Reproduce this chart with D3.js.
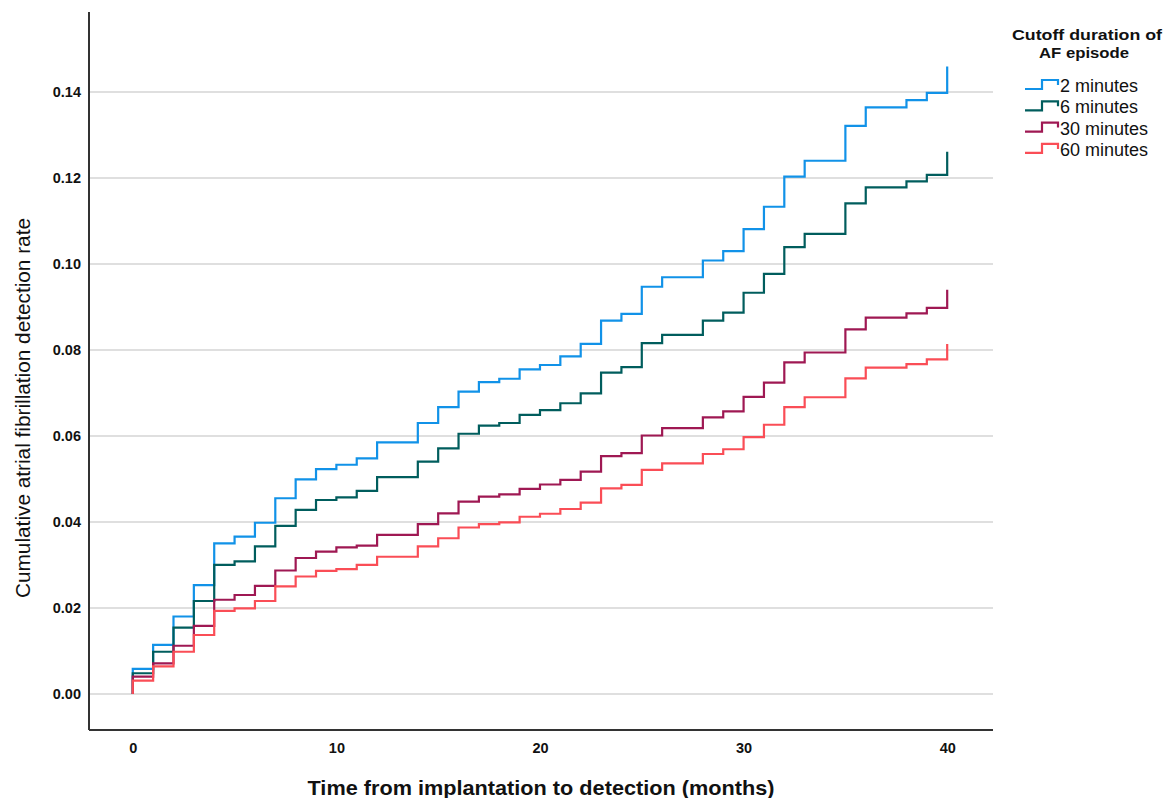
<!DOCTYPE html>
<html>
<head>
<meta charset="utf-8">
<script src="https://cdn.jsdelivr.net/npm/d3@7"></script>
<style>
  body { margin: 0; background: #fff; }
  svg { display: block; font-family: "Liberation Sans", Arial, sans-serif; }
</style>
</head>
<body>
<svg id="chart" width="1166" height="798"></svg>
<script>
// months at which the estimate is read (0..40)
const months = [0, 1, 2, 3, 4, 5, 6, 7, 8, 9, 10, 11, 12, 13, 14, 15, 16, 17, 18, 19, 20,
                21, 22, 23, 24, 25, 26, 27, 28, 29, 30, 31, 32, 33, 34, 35, 36, 37, 38, 39, 40];

const seriesNames = ["2 minutes", "6 minutes", "30 minutes", "60 minutes"];
const seriesColors = ["#1192e8", "#005d5d", "#9f1853", "#fa4d56"];

const min2 = [0.0058, 0.0114, 0.0180, 0.0253, 0.0350, 0.0366, 0.0398, 0.0455, 0.0499, 0.0523,
              0.0533, 0.0548, 0.0585, 0.0585, 0.0630, 0.0667, 0.0703, 0.0725, 0.0733, 0.0755,
              0.0765, 0.0785, 0.0814, 0.0868, 0.0884, 0.0947, 0.0969, 0.0969, 0.1008, 0.1030,
              0.1081, 0.1133, 0.1203, 0.1240, 0.1240, 0.1321, 0.1364, 0.1364, 0.1381, 0.1398,
              0.1459];
const min6 = [0.0048, 0.0098, 0.0154, 0.0216, 0.0300, 0.0308, 0.0343, 0.0391, 0.0428, 0.0451,
              0.0457, 0.0472, 0.0504, 0.0504, 0.0540, 0.0571, 0.0605, 0.0624, 0.0630, 0.0649,
              0.0660, 0.0676, 0.0699, 0.0747, 0.0760, 0.0816, 0.0835, 0.0835, 0.0868, 0.0887,
              0.0933, 0.0977, 0.1039, 0.1070, 0.1070, 0.1141, 0.1178, 0.1178, 0.1192, 0.1207,
              0.1261];
const min30 = [0.0040, 0.0071, 0.0112, 0.0158, 0.0219, 0.0230, 0.0251, 0.0287, 0.0316, 0.0331,
               0.0341, 0.0345, 0.0370, 0.0370, 0.0395, 0.0420, 0.0447, 0.0459, 0.0464, 0.0477,
               0.0487, 0.0498, 0.0517, 0.0553, 0.0560, 0.0601, 0.0618, 0.0618, 0.0643, 0.0657,
               0.0691, 0.0724, 0.0771, 0.0794, 0.0794, 0.0848, 0.0875, 0.0875, 0.0885, 0.0898,
               0.0940];
const min60 = [0.0031, 0.0064, 0.0098, 0.0137, 0.0193, 0.0199, 0.0216, 0.0250, 0.0273, 0.0286,
               0.0290, 0.0300, 0.0319, 0.0319, 0.0343, 0.0362, 0.0387, 0.0395, 0.0399, 0.0412,
               0.0419, 0.0430, 0.0445, 0.0478, 0.0486, 0.0521, 0.0536, 0.0536, 0.0558, 0.0569,
               0.0597, 0.0626, 0.0667, 0.0690, 0.0690, 0.0734, 0.0759, 0.0759, 0.0767, 0.0778,
               0.0814];

const xTicks = [0, 10, 20, 30, 40];
const yTicks = [0.00, 0.02, 0.04, 0.06, 0.08, 0.10, 0.12, 0.14];

const allSeries = [min2, min6, min30, min60];

const svg = d3.select("#chart"),
      margin = {top: 12, right: 173, bottom: 68, left: 89},
      width = 1166 - margin.left - margin.right,
      height = 798 - margin.top - margin.bottom;

const x = d3.scaleLinear().domain([-2.15, 42.25]).range([margin.left, margin.left + width]);
const y = d3.scaleLinear().domain([-0.0084, 0.1586]).range([margin.top + height, margin.top]);

// grid lines
svg.append("g")
  .selectAll("line")
  .data(yTicks)
  .enter().append("line")
  .attr("x1", margin.left)
  .attr("x2", margin.left + width)
  .attr("y1", d => y(d))
  .attr("y2", d => y(d))
  .style("stroke", "#d4d4d4")
  .style("stroke-width", 1.5);

// y tick labels
const yAxis = svg.append("g")
  .attr("transform", "translate(" + margin.left + ",0)")
  .call(d3.axisLeft(y).tickValues(yTicks).tickFormat(d3.format(".2f")).tickSize(0).tickPadding(8));
yAxis.select(".domain").remove();
yAxis.selectAll("text")
  .style("font-family", "'Liberation Sans', Arial, sans-serif")
  .style("font-size", "14.5px")
  .style("font-weight", "bold")
  .style("fill", "#111");

// x tick labels
const xAxis = svg.append("g")
  .attr("transform", "translate(0," + (margin.top + height) + ")")
  .call(d3.axisBottom(x).tickValues(xTicks).tickFormat(d3.format("d")).tickSize(0).tickPadding(13));
xAxis.select(".domain").remove();
xAxis.selectAll("text")
  .style("font-family", "'Liberation Sans', Arial, sans-serif")
  .style("font-size", "14.5px")
  .style("font-weight", "bold")
  .style("fill", "#111");

// axis frame lines
svg.append("line")
  .attr("x1", margin.left).attr("x2", margin.left)
  .attr("y1", margin.top).attr("y2", margin.top + height)
  .style("stroke", "#333").style("stroke-width", 2);
svg.append("line")
  .attr("x1", margin.left).attr("x2", margin.left + width)
  .attr("y1", margin.top + height).attr("y2", margin.top + height)
  .style("stroke", "#333").style("stroke-width", 2);

// step lines
const line = d3.line()
  .curve(d3.curveStepAfter)
  .x(d => x(d[0]))
  .y(d => y(d[1]));

allSeries.forEach((vals, i) => {
  const pts = [[months[0], 0]].concat(months.map((m, j) => [m, vals[j]]));
  svg.append("path")
    .datum(pts)
    .attr("d", line)
    .style("fill", "none")
    .style("stroke", seriesColors[i])
    .style("stroke-width", 2.2)
    .style("stroke-linejoin", "miter");
});

// axis titles
svg.append("text")
  .attr("x", 541)
  .attr("y", 795)
  .attr("text-anchor", "middle")
  .attr("textLength", 467)
  .attr("lengthAdjust", "spacingAndGlyphs")
  .style("font-size", "21px")
  .style("font-weight", "bold")
  .style("fill", "#111")
  .text("Time from implantation to detection (months)");

svg.append("text")
  .attr("transform", "translate(30,408) rotate(-90)")
  .attr("text-anchor", "middle")
  .attr("textLength", 380)
  .attr("lengthAdjust", "spacingAndGlyphs")
  .style("font-size", "19.5px")
  .style("fill", "#111")
  .text("Cumulative atrial fibrillation detection rate");

// legend
const legend = svg.append("g");
legend.append("text")
  .attr("x", 1087).attr("y", 40)
  .attr("text-anchor", "middle")
  .attr("textLength", 150)
  .attr("lengthAdjust", "spacingAndGlyphs")
  .style("font-size", "15px").style("font-weight", "bold").style("fill", "#111")
  .text("Cutoff duration of");
legend.append("text")
  .attr("x", 1084).attr("y", 57.5)
  .attr("text-anchor", "middle")
  .attr("textLength", 90)
  .attr("lengthAdjust", "spacingAndGlyphs")
  .style("font-size", "15px").style("font-weight", "bold").style("fill", "#111")
  .text("AF episode");

const item = legend.selectAll(".item")
  .data(seriesNames)
  .enter().append("g")
  .attr("class", "item")
  .attr("transform", (d, i) => "translate(1025," + (92 + i * 21.3) + ")");

item.append("path")
  .attr("d", "M0,-3 H17 V-12 H33 V-7")
  .style("fill", "none")
  .style("stroke", (d, i) => seriesColors[i])
  .style("stroke-width", 2.2);

item.append("text")
  .attr("x", 35)
  .attr("y", 0)
  .style("font-size", "18px")
  .style("fill", "#111")
  .text(d => d);
</script>
</body>
</html>
